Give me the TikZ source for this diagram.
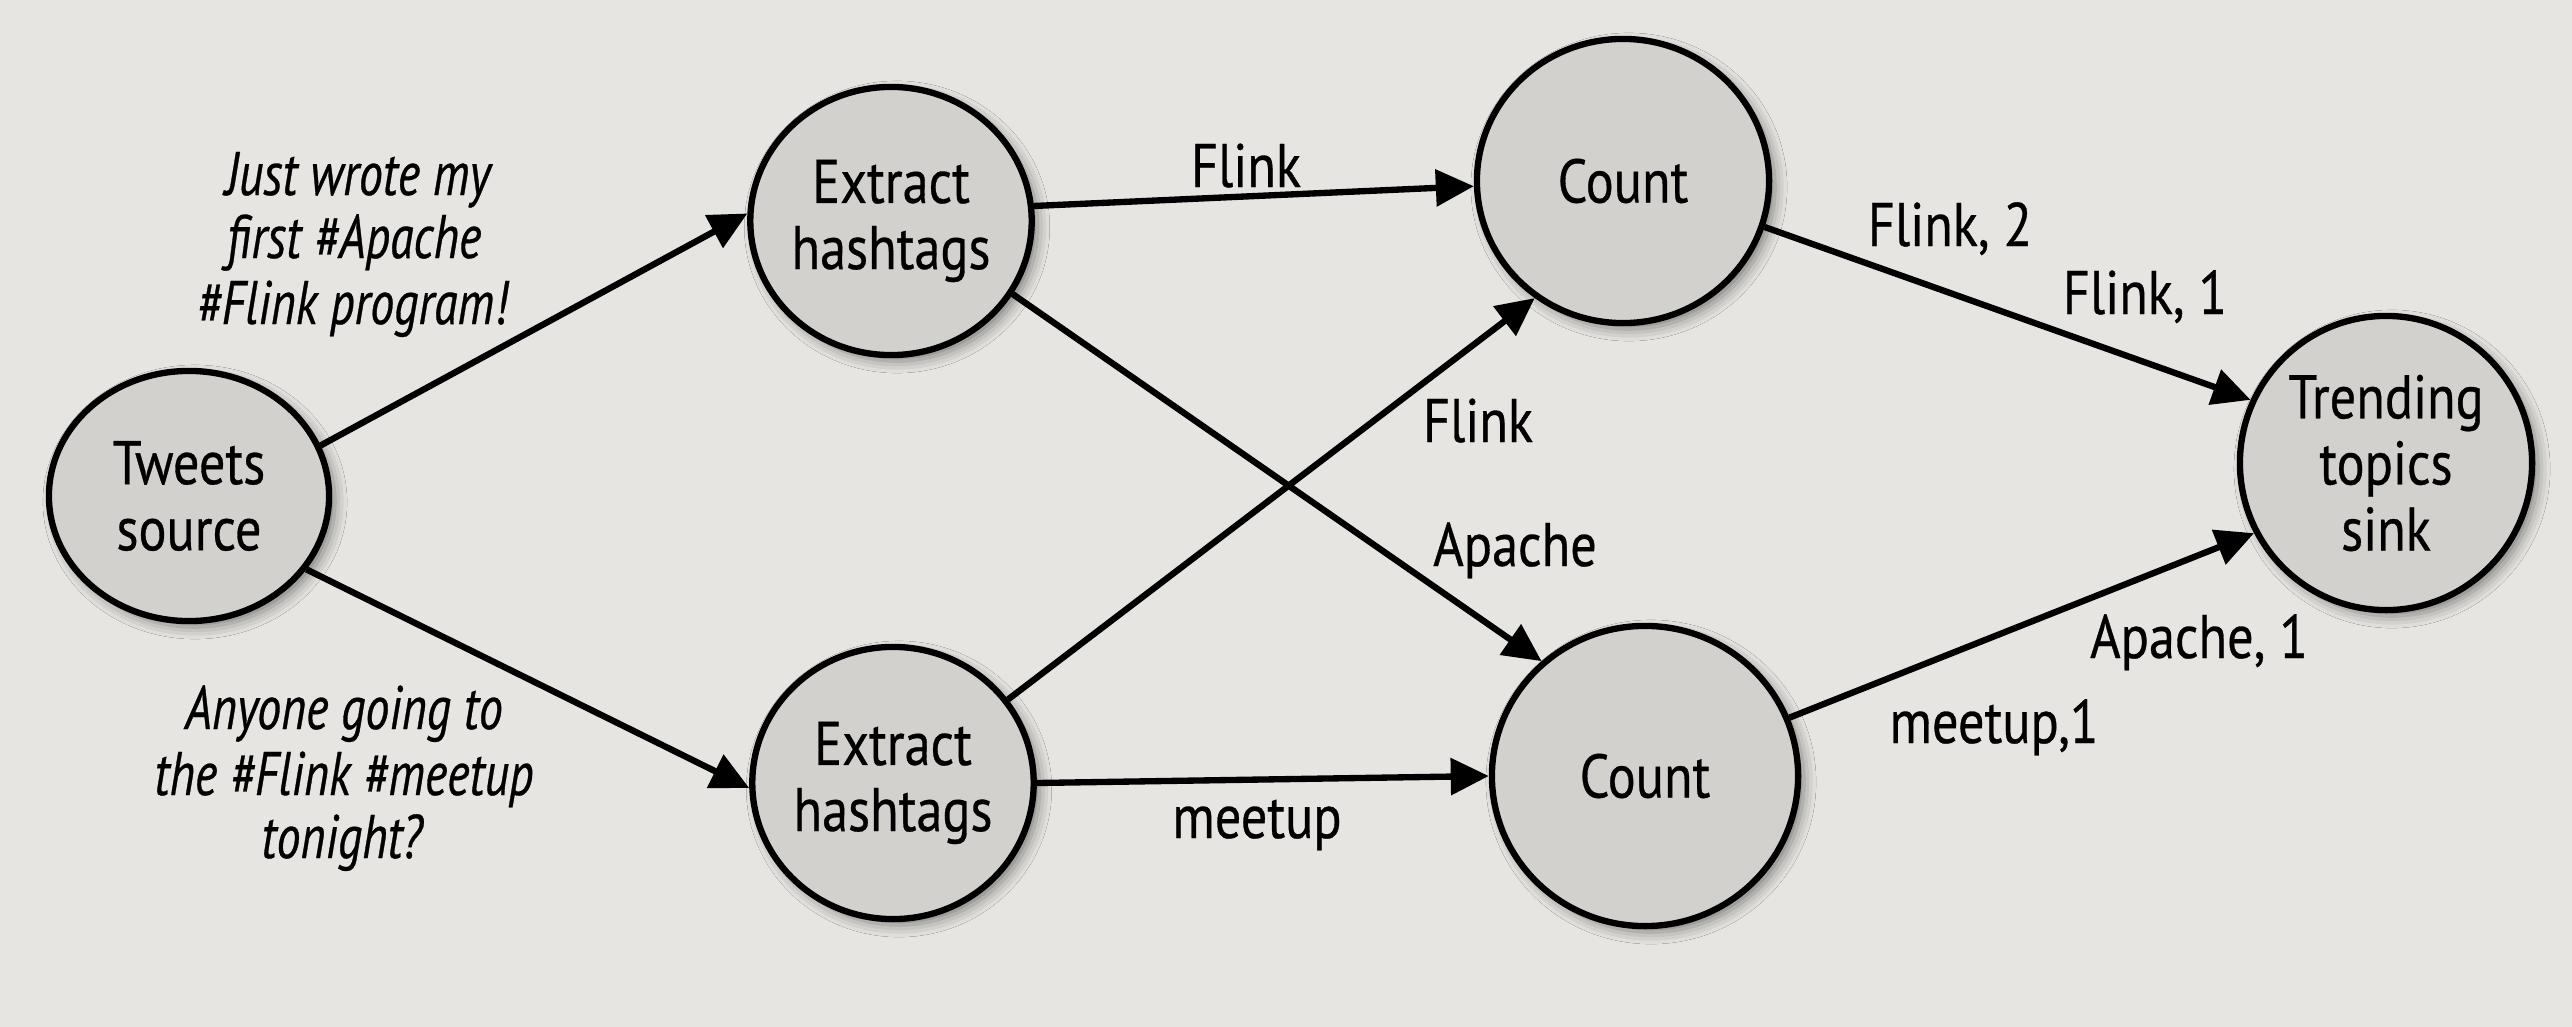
\documentclass[tikz,border=0pt]{standalone}
\usepackage{fontspec}
\setmainfont{PT Sans}[FakeStretch=0.85,FakeBold=0.5]
\newfontfamily\tweetfont{PT Sans}[FakeStretch=0.78,FakeBold=0.5]
\usetikzlibrary{arrows.meta,shapes.geometric,shadows.blur}
\definecolor{paper}{HTML}{E6E5E1}
\definecolor{nodefill}{HTML}{D3D1CD}
\begin{document}
\begin{tikzpicture}[x=0.01cm,y=-0.01cm,
  op/.style={ellipse, draw=black, line width=1.8pt, fill=nodefill, inner sep=0pt,
    align=center, font=\fontsize{17.5}{18.8}\selectfont,
    blur shadow={shadow xshift=0.06cm, shadow yshift=-0.06cm, shadow blur radius=0.12cm, shadow opacity=45}},
  flow/.style={line width=1.8pt, -{Triangle[length=0.38cm,width=0.36cm]}},
  lbl/.style={anchor=base, inner sep=0pt, font=\fontsize{17.5}{18.8}\selectfont},
  tweet/.style={anchor=base, inner sep=0pt, font=\tweetfont\itshape\fontsize{17.5}{18.8}\selectfont}]
\fill[paper] (0,0) rectangle (2572,1027);
\useasboundingbox (0,0) rectangle (2572,1027);

\node[op, minimum width=2.80cm, minimum height=2.50cm] (src) at (189,496) {Tweets\\source};
\node[op, minimum width=2.74cm, minimum height=2.68cm] (ex1) at (891,221) {Extract\\hashtags};
\node[op, minimum width=2.74cm, minimum height=2.72cm] (ex2) at (893,783) {Extract\\hashtags};
\node[op, minimum width=2.92cm, minimum height=2.84cm] (c1) at (1623,181) {Count};
\node[op, minimum width=3.06cm, minimum height=3.00cm] (c2) at (1645,776) {Count};
\node[op, minimum width=2.92cm, minimum height=2.94cm] (sink) at (2386,463) {Trending\\topics\\sink};

\draw[flow] (src.21) -- (ex1.177);
\draw[flow] (src.328) -- (ex2.182);
\draw[flow] (ex1.6) -- (c1.182);
\draw[flow] (ex1.329) -- (c2.132);
\draw[flow] (ex2.36) -- (c1.233);
\draw[flow] (ex2.0) -- (c2.180);
\draw[flow] (c1.342) -- (sink.155);
\draw[flow] (c2.22) -- (sink.208);

\node[tweet] (ta1) at (358,195) {Just wrote my};
\node[tweet] (ta2) at (354,258) {first \#Apache};
\node[tweet] (ta3) at (352,324) {\#Flink program!};
\node[tweet] (tb1) at (344,729) {Anyone going to};
\node[tweet] (tb2) at (344,795) {the \#Flink \#meetup};
\node[tweet] (tb3) at (342,858) {tonight?};

\node[lbl] (l1) at (1246,187) {Flink};
\node[lbl] (l2) at (1478,442) {Flink};
\node[lbl] (l3) at (1515,566) {Apache};
\node[lbl] (l4) at (1257,838) {meetup};
\node[lbl] (l5) at (1950,246) {Flink, 2};
\node[lbl] (l6) at (2145,314) {Flink, 1};
\node[lbl] (l7) at (2199,658) {Apache, 1};
\node[lbl] (l8) at (1994,743) {meetup,1};
\end{tikzpicture}
\end{document}
